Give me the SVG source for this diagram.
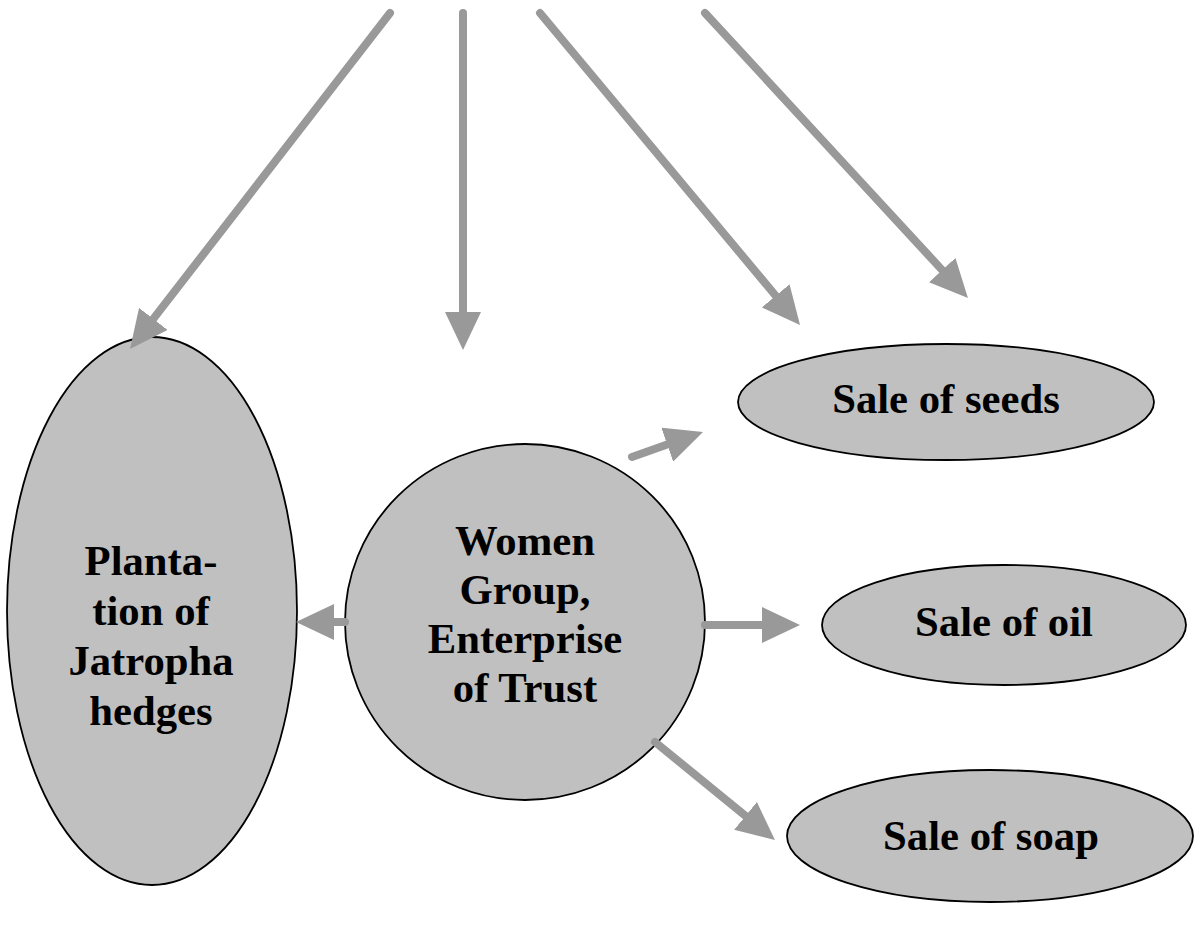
<svg xmlns="http://www.w3.org/2000/svg" width="1195" height="945" viewBox="0 0 1195 945">
<style>
.node{fill:#c0c0c0;stroke:#000;stroke-width:1.8}
.lbl{font-family:"Liberation Serif","Times New Roman",serif;font-weight:bold;font-size:42.7px;fill:#000;text-anchor:middle}
.conn{stroke:#999;stroke-width:8;stroke-linecap:round;fill:none}
</style>
<defs>
<marker id="ah" markerUnits="userSpaceOnUse" viewBox="0 0 38 36" refX="0" refY="18" markerWidth="38" markerHeight="36" orient="auto">
<path d="M0,0 L38,18 L0,36 Z" fill="#999"/>
</marker>
</defs>
<rect width="1195" height="945" fill="#fff"/>
<g id="plantation">
<ellipse class="node" cx="152" cy="611" rx="145" ry="274"/>
<text class="lbl"><tspan x="151" y="575">Planta-</tspan><tspan x="151" y="625">tion of</tspan><tspan x="151" y="675">Jatropha</tspan><tspan x="151" y="725">hedges</tspan></text>
</g>
<g id="women">
<ellipse class="node" cx="525" cy="622" rx="180" ry="178"/>
<text class="lbl"><tspan x="525" y="555">Women</tspan><tspan x="525" y="604">Group,</tspan><tspan x="525" y="653">Enterprise</tspan><tspan x="525" y="702">of Trust</tspan></text>
</g>
<g id="seeds">
<ellipse class="node" cx="946" cy="402" rx="208" ry="58"/>
<text class="lbl" x="946" y="413">Sale of seeds</text>
</g>
<g id="oil">
<ellipse class="node" cx="1004" cy="625" rx="182" ry="60"/>
<text class="lbl" x="1004" y="636">Sale of oil</text>
</g>
<g id="soap">
<ellipse class="node" cx="990" cy="836" rx="203" ry="66"/>
<text class="lbl" x="991" y="850">Sale of soap</text>
</g>
<g id="connectors">
<line class="conn" x1="390" y1="13" x2="153.3" y2="318.9" marker-end="url(#ah)"/>
<line class="conn" x1="463" y1="13" x2="463" y2="312" marker-end="url(#ah)"/>
<line class="conn" x1="540" y1="13" x2="775.7" y2="295.8" marker-end="url(#ah)"/>
<line class="conn" x1="705" y1="13" x2="942.2" y2="270.1" marker-end="url(#ah)"/>
<line class="conn" x1="632" y1="457" x2="667.2" y2="444.6" marker-end="url(#ah)"/>
<line class="conn" x1="705" y1="625" x2="762" y2="625" marker-end="url(#ah)"/>
<line class="conn" x1="345" y1="622" x2="334" y2="622" marker-end="url(#ah)"/>
<line class="conn" x1="655" y1="742" x2="745.5" y2="815.9" marker-end="url(#ah)"/>
</g>
</svg>
